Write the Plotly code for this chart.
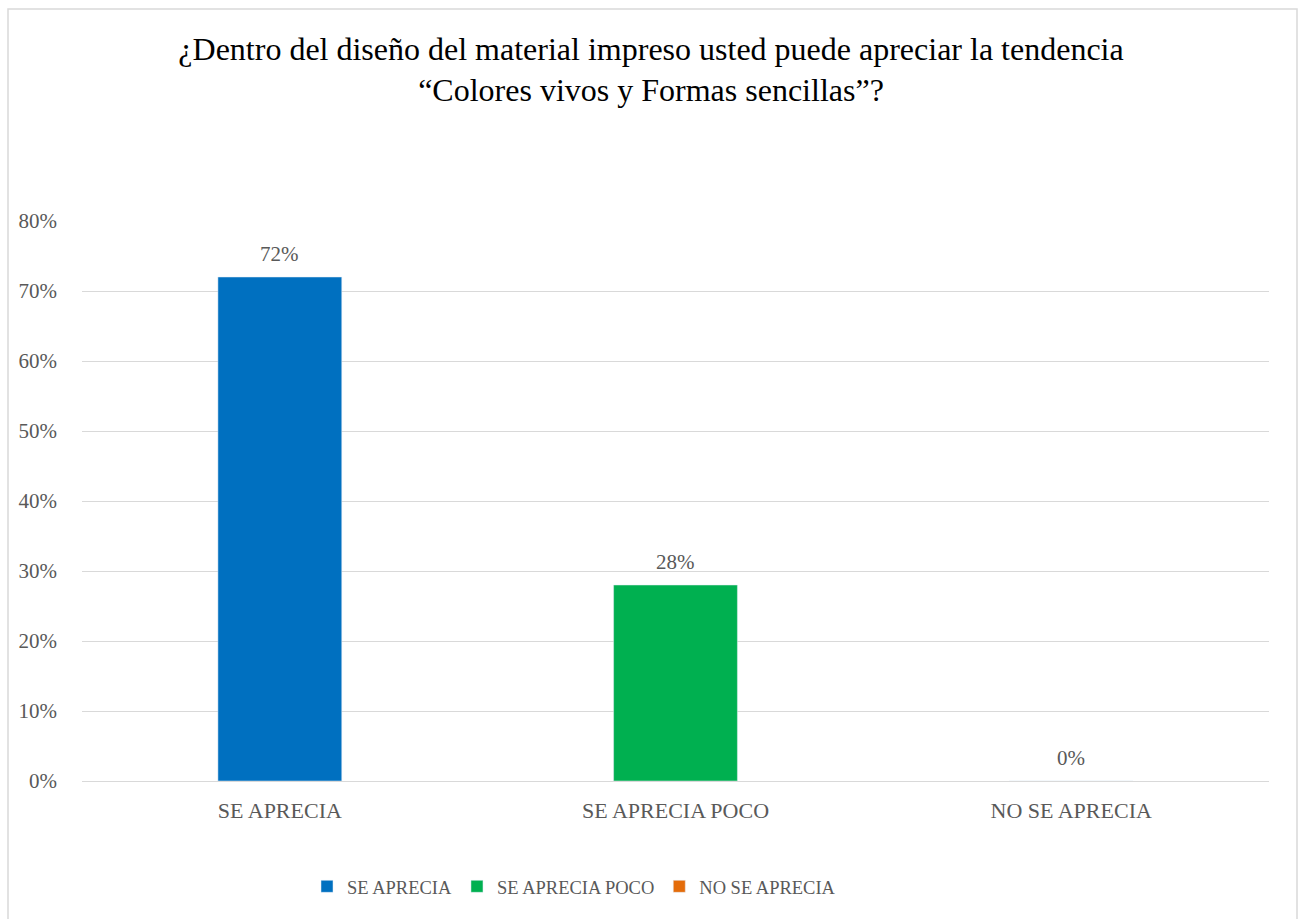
import plotly.graph_objects as go

categories = ["SE APRECIA", "SE APRECIA POCO", "NO SE APRECIA"]
values = [0.72, 0.28, 0.0]
labels = ["72%", "28%", "0%"]
colors = ["#0070C0", "#00B050", "#E46C0A"]
y_ticks = [0, 0.1, 0.2, 0.3, 0.4, 0.5, 0.6, 0.7, 0.8]
y_tick_text = ["0%", "10%", "20%", "30%", "40%", "50%", "60%", "70%", "80%"]

SERIF = "Liberation Serif, Times New Roman, serif"
GRAY = "#595959"

fig = go.Figure()
for c, v, col in zip(categories, values, colors):
    fig.add_trace(go.Bar(x=[c], y=[v], name=c, marker_color=col, width=0.313,
                         hoverinfo="skip"))

for c, v, t in zip(categories, values, labels):
    fig.add_annotation(x=c, y=v, text=t, showarrow=False, yanchor="bottom",
                       yshift=9, font=dict(family=SERIF, size=21, color=GRAY))

# chart border (paper coords relative to plot domain 82..1269 x, 221..781 y)
fig.add_shape(type="rect", xref="paper", yref="paper",
              x0=(8 - 82) / 1187, x1=(1297 - 82) / 1187,
              y0=-0.4, y1=(781 - 9) / 560,
              line=dict(color="#d9d9d9", width=1.5),
              fillcolor="rgba(0,0,0,0)", layer="below")

fig.update_layout(
    width=1299, height=919,
    margin=dict(l=82, r=30, t=221, b=138, autoexpand=False),
    paper_bgcolor="white", plot_bgcolor="white",
    barmode="overlay",
    title=dict(text="¿Dentro del diseño del material impreso usted puede apreciar la tendencia<br>“Colores vivos y Formas sencillas”?",
               x=(651 - 82) / 1187, xref="paper", xanchor="center", y=0.935, yanchor="top",
               font=dict(family=SERIF, size=32, color="#000000")),
    font=dict(family=SERIF, color=GRAY),
    xaxis=dict(categoryorder="array", categoryarray=categories,
               tickfont=dict(family=SERIF, size=22, color=GRAY),
               showgrid=False, showline=True, linecolor="#d9d9d9", linewidth=1,
               ticks="", ticklabelstandoff=10, automargin=False),
    yaxis=dict(range=[0, 0.8], tickvals=y_ticks, ticktext=y_tick_text,
               tickfont=dict(family=SERIF, size=21, color=GRAY),
               showgrid=True, gridcolor="#d9d9d9", gridwidth=1,
               zeroline=False, showline=False, ticks="", ticklabelstandoff=24,
               automargin=False),
    legend=dict(orientation="h", x=(574 - 82) / 1187, xanchor="center", y=-0.155, yanchor="top",
                font=dict(family=SERIF, size=18.5, color=GRAY),
                itemwidth=30, traceorder="normal"),
)

fig.write_html("out.html")
